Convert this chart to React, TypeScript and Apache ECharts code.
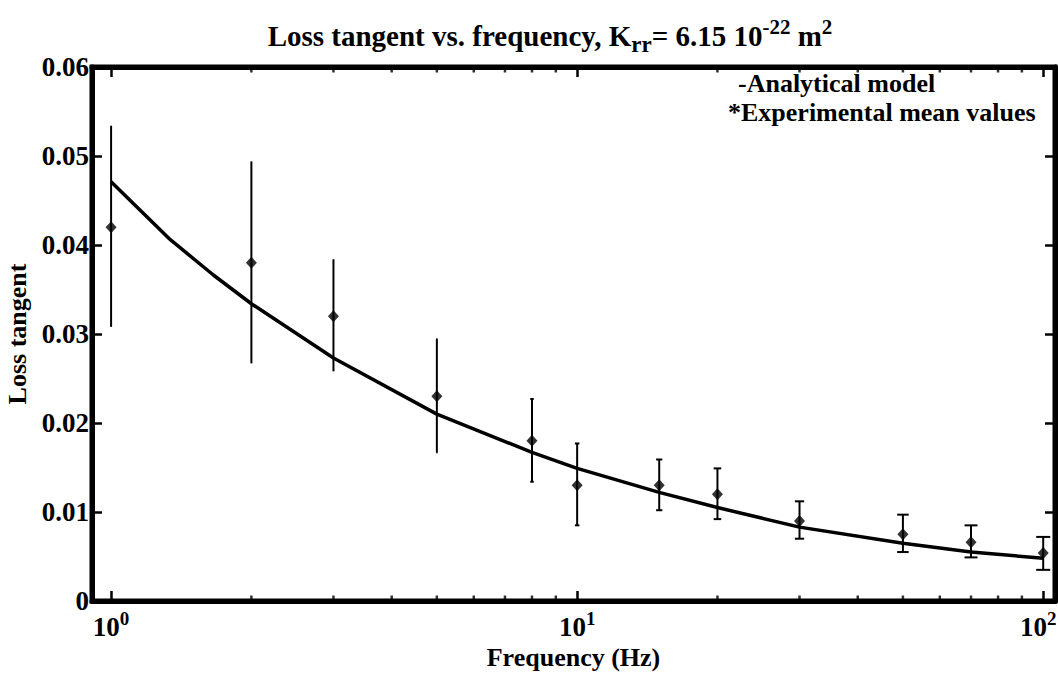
import React, { useEffect, useRef } from "react";
import * as echarts from "echarts";

// Experimental mean values (Hz, loss tangent) with error-bar bounds
const freq = [1, 2, 3, 5, 8, 10, 15, 20, 30, 50, 70, 100];
const meanVals = [0.042, 0.038, 0.032, 0.023, 0.018, 0.013, 0.013, 0.012, 0.009, 0.0075, 0.0066, 0.0054];
const errLow = [0.0308, 0.0267, 0.0258, 0.0167, 0.0134, 0.0085, 0.0102, 0.0092, 0.007, 0.0055, 0.0049, 0.0035];
const errHigh = [0.0534, 0.0494, 0.0384, 0.0294, 0.0227, 0.0177, 0.0159, 0.0149, 0.0112, 0.0097, 0.0085, 0.0072];

// Analytical model curve
const modelFreq = [1, 1.34, 1.66, 2, 3, 5, 8, 10, 15, 20, 30, 50, 70, 100];
const modelVals = [0.0471, 0.0406, 0.0366, 0.0334, 0.0273, 0.021, 0.0167, 0.0149, 0.0122, 0.0105, 0.0083, 0.0065, 0.0055, 0.0048];

// Minor tick positions of the log axis
const minorTickFreq = [2, 3, 4, 5, 6, 7, 8, 9, 20, 30, 40, 50, 60, 70, 80, 90];

const xMin = 0.91;
const xMax = 106;
const yMin = 0;
const yMax = 0.06;
const yStep = 0.01;

const FONT = "'Liberation Serif', 'Times New Roman', serif";

export default function App() {
  const ref = useRef<HTMLDivElement>(null);
  useEffect(() => {
    if (!ref.current) return;
    const chart = echarts.init(ref.current, null, { renderer: "svg" });
    const base = { fontFamily: FONT, fontWeight: "bold" as const, color: "#000" };
    const xLabel = {
      show: true,
      margin: 8,
      showMinLabel: false,
      showMaxLabel: false,
      formatter: (v: number) => {
        const l = Math.log10(v);
        const e = Math.round(l);
        if (Math.abs(l - e) > 1e-6) return "";
        return e === 2 ? `{b|10}{e|${e}}` : `{b|10}{s|${e}}`;
      },
      rich: {
        b: { ...base, fontSize: 27 },
        s: { ...base, fontSize: 19, padding: [0, 0, 16, 0] },
        e: { ...base, fontSize: 19, padding: [0, 10, 16, 0] },
      },
    };
    const mkLine = () => ({ show: true, onZero: false, lineStyle: { color: "#000", width: 5 } });
    const mkTick = () => ({ show: true, inside: true, length: 10, lineStyle: { color: "#000", width: 2.5 } });
    const errData = freq.map((f, i) => [f, errLow[i], errHigh[i]]);
    chart.setOption({
      animation: false,
      backgroundColor: "#fff",
      title: {
        left: 545,
        textAlign: "center",
        top: 10,
        text: "{a|Loss tangent vs. frequency, K}{sub|rr}{a|= 6.15 10}{sup|-22}{a| m}{sup|2}",
        textStyle: {
          rich: {
            a: { ...base, fontSize: 29 },
            sub: { ...base, fontSize: 23, padding: [18, 0, 0, 0] },
            sup: { ...base, fontSize: 21, padding: [0, 0, 18, 0] },
          },
        },
      },
      grid: {
        left: 92,
        right: 3,
        top: 67,
        bottom: 72,
        containLabel: false,
        outerBoundsMode: "none",
        show: true,
        borderColor: "#000",
        borderWidth: 5,
        backgroundColor: "transparent",
      },
      xAxis: [
        {
          type: "log",
          logBase: 10,
          min: xMin,
          max: xMax,
          position: "bottom",
          axisLine: mkLine(),
          axisTick: mkTick(),
          axisLabel: xLabel,
          splitLine: { show: false },
          name: "Frequency (Hz)",
          nameLocation: "middle",
          nameGap: 36,
          nameTextStyle: { ...base, fontSize: 26 },
        },
        {
          type: "log",
          logBase: 10,
          min: xMin,
          max: xMax,
          position: "top",
          axisLine: mkLine(),
          axisTick: mkTick(),
          axisLabel: { show: false },
          splitLine: { show: false },
        },
      ],
      yAxis: [
        {
          type: "value",
          min: yMin,
          max: yMax,
          interval: yStep,
          position: "left",
          axisLine: mkLine(),
          axisTick: mkTick(),
          splitLine: { show: false },
          axisLabel: {
            ...base,
            fontSize: 27,
            margin: 3,
            formatter: (v: number) => (v === 0 ? "0" : v.toFixed(2)),
          },
          name: "Loss tangent",
          nameLocation: "middle",
          nameGap: 58,
          nameRotate: 90,
          nameTextStyle: { ...base, fontSize: 26 },
        },
        {
          type: "value",
          min: yMin,
          max: yMax,
          interval: yStep,
          position: "right",
          axisLine: mkLine(),
          axisTick: mkTick(),
          splitLine: { show: false },
          axisLabel: { show: false },
        },
      ],
      graphic: [
        { type: "text", left: 738, top: 70, style: { text: "-Analytical model", font: `bold 26px ${FONT}`, fill: "#000" } },
        { type: "text", left: 728, top: 99, style: { text: "*Experimental mean values", font: `bold 26px ${FONT}`, fill: "#000" } },
      ],
      series: [
        {
          type: "line",
          data: modelFreq.map((f, i) => [f, modelVals[i]]),
          symbol: "none",
          lineStyle: { color: "#000", width: 3.5 },
          z: 3,
        },
        {
          type: "custom",
          data: errData,
          encode: { x: 0, y: [1, 2] },
          z: 4,
          renderItem: (params: any, api: any) => {
            const x = api.value(0);
            const lo = api.coord([x, api.value(1)]);
            const hi = api.coord([x, api.value(2)]);
            const half = Math.max(0, Math.min(7, (Math.log10(x) - 0.55) * 5));
            const st = { stroke: "#000", lineWidth: 2 };
            const children: any[] = [
              { type: "line", shape: { x1: lo[0], y1: lo[1], x2: hi[0], y2: hi[1] }, style: st },
            ];
            if (half > 0.5) {
              children.push({ type: "line", shape: { x1: lo[0] - half, y1: lo[1], x2: lo[0] + half, y2: lo[1] }, style: st });
              children.push({ type: "line", shape: { x1: hi[0] - half, y1: hi[1], x2: hi[0] + half, y2: hi[1] }, style: st });
            }
            return { type: "group", children };
          },
        },
        {
          type: "scatter",
          data: freq.map((f, i) => [f, meanVals[i]]),
          symbol: "diamond",
          symbolSize: [11, 12],
          itemStyle: { color: "#000" },
          z: 5,
        },
        {
          type: "scatter",
          data: minorTickFreq.map((f) => [f, yMin]),
          symbol: "rect",
          symbolSize: [2.5, 7],
          symbolOffset: [0, -2],
          itemStyle: { color: "#000" },
          silent: true,
          z: 6,
        },
        {
          type: "scatter",
          data: minorTickFreq.map((f) => [f, yMax]),
          symbol: "rect",
          symbolSize: [2.5, 7],
          symbolOffset: [0, 2],
          itemStyle: { color: "#000" },
          silent: true,
          z: 6,
        },
      ],
    });
    return () => chart.dispose();
  }, []);
  return (
    <div
      ref={ref}
      style={{ position: "fixed", left: 0, top: 0, width: 1058, height: 673, background: "#fff" }}
    />
  );
}
